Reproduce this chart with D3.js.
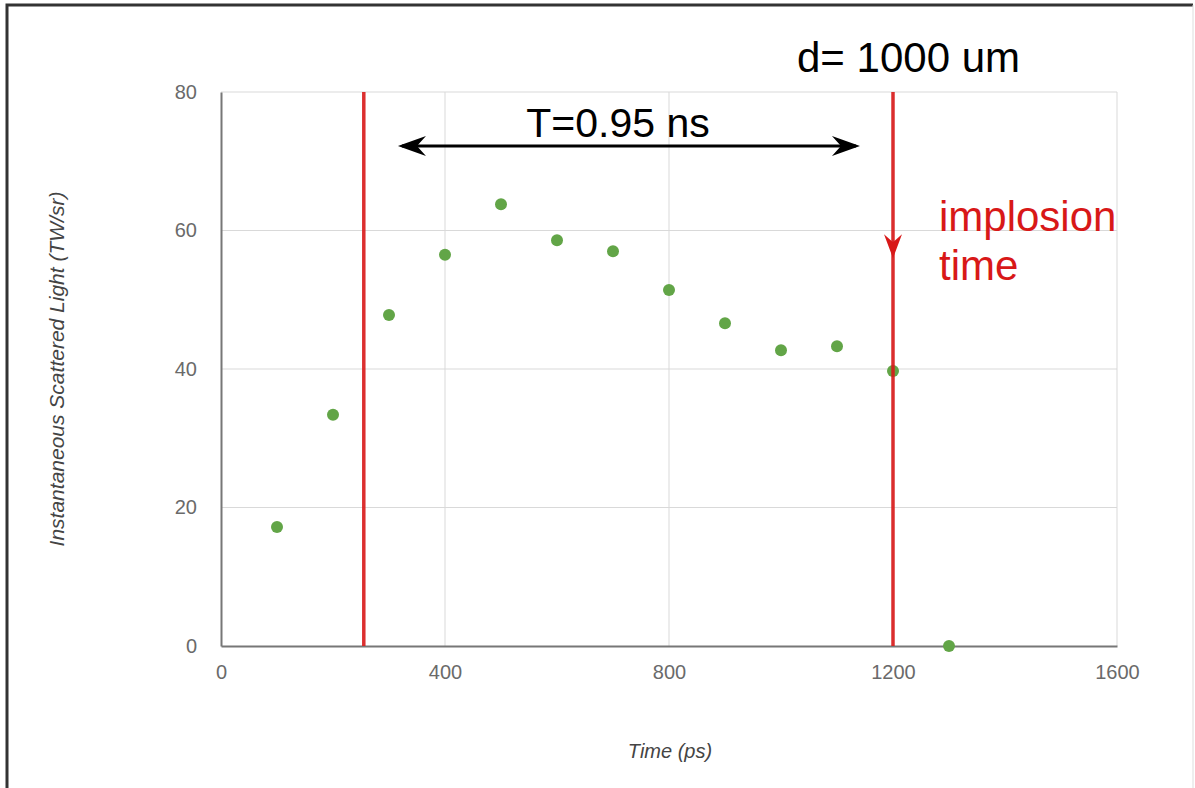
<!DOCTYPE html>
<html>
<head>
<meta charset="utf-8">
<script src="https://cdn.jsdelivr.net/npm/d3@7"></script>
<style>
  body { margin: 0; background: #fff; }
  svg { display: block; font-family: "Liberation Sans", Arial, sans-serif; }
</style>
</head>
<body>
<svg width="1195" height="788"></svg>
<script>
"use strict";

// scattered light vs time
const times = [100, 200, 300, 400, 500, 600, 700, 800, 900, 1000, 1100, 1200, 1300];
const light = [17.2, 33.4, 47.8, 56.5, 63.8, 58.6, 57.0, 51.4, 46.6, 42.7, 43.3, 39.7, 0];
const xTicks = [0, 400, 800, 1200, 1600];
const yTicks = [0, 20, 40, 60, 80];
const markerTimes = [255, 1200]; // red vertical lines
const spanArrow = [316, 1141];   // T=0.95 ns arrow extent (ps)
const arrowTipValue = 56;        // where the down arrow on the implosion line points

window.addEventListener("load", drawGraph);

function drawGraph() {
  const svg = d3.select("svg");
  const margin = { top: 92, right: 78, bottom: 142, left: 221 };
  const width = 1195 - margin.left - margin.right;
  const height = 788 - margin.top - margin.bottom;
  const red = "#d81818";

  // frame round the picture
  svg.append("path")
    .attr("d", "M7,788 V5 H1193")
    .attr("fill", "none")
    .attr("stroke", "#333")
    .attr("stroke-width", 3);
  svg.append("line")
    .attr("x1", 1193).attr("x2", 1193).attr("y1", 5).attr("y2", 788)
    .attr("stroke", "#ddd").attr("stroke-width", 1);

  const g = svg.append("g").attr("transform", `translate(${margin.left},${margin.top})`);

  const x = d3.scaleLinear().domain([0, 1600]).range([0, width]);
  const y = d3.scaleLinear().domain([0, 80]).range([height, 0]);

  // grid
  g.append("g")
    .selectAll("line")
    .data(yTicks.filter((d) => d > 0))
    .join("line")
    .attr("x1", 0).attr("x2", width)
    .attr("y1", (d) => y(d)).attr("y2", (d) => y(d))
    .attr("stroke", "#d9d9d9");
  g.append("g")
    .selectAll("line")
    .data(xTicks.filter((d) => d > 0))
    .join("line")
    .attr("y1", 0).attr("y2", height)
    .attr("x1", (d) => x(d)).attr("x2", (d) => x(d))
    .attr("stroke", "#d9d9d9");

  // axes
  const yAxis = g.append("g")
    .call(d3.axisLeft(y).tickValues(yTicks).tickFormat(d3.format("d")).tickSize(0).tickPadding(24));
  const xAxis = g.append("g")
    .attr("transform", `translate(0,${height})`)
    .call(d3.axisBottom(x).tickValues(xTicks).tickFormat(d3.format("d")).tickSize(0).tickPadding(19));
  [xAxis, yAxis].forEach((a) => {
    a.attr("font-size", null).attr("font-family", null);
    a.select(".domain").attr("stroke", "#777").attr("stroke-width", 2);
    a.selectAll("text")
      .attr("fill", "#6a6a6a")
      .style("font-size", "20px");
  });

  // axis titles
  svg.append("text")
    .attr("x", 670).attr("y", 758)
    .attr("text-anchor", "middle")
    .attr("fill", "#444")
    .style("font-size", "20px")
    .style("font-style", "italic")
    .text("Time (ps)");
  svg.append("text")
    .attr("transform", `translate(64,${margin.top + height / 2}) rotate(-90)`)
    .attr("text-anchor", "middle")
    .attr("fill", "#444")
    .style("font-size", "21px")
    .style("font-style", "italic")
    .text("Instantaneous Scattered Light (TW/sr)");

  // points
  g.append("g")
    .selectAll("circle")
    .data(times.map((t, i) => ({ t, v: light[i] })))
    .join("circle")
    .attr("cx", (d) => x(d.t))
    .attr("cy", (d) => y(d.v))
    .attr("r", 6)
    .attr("fill", "#62a547");

  // red markers
  g.append("g")
    .selectAll("line")
    .data(markerTimes)
    .join("line")
    .attr("x1", (d) => x(d)).attr("x2", (d) => x(d))
    .attr("y1", 0).attr("y2", height)
    .attr("stroke", red)
    .attr("stroke-width", 3.5)
    .attr("stroke-opacity", 0.9);

  // down arrow head on right marker
  const ax = x(markerTimes[1]);
  const tip = y(arrowTipValue);
  g.append("path")
    .attr("d", `M${ax},${tip} L${ax - 9},${tip - 24} L${ax},${tip - 16} L${ax + 9},${tip - 24} Z`)
    .attr("fill", red);

  // double-headed arrow
  const ay = 54;
  const x0 = x(spanArrow[0]);
  const x1 = x(spanArrow[1]);
  g.append("line")
    .attr("x1", x0 + 4).attr("x2", x1 - 4)
    .attr("y1", ay).attr("y2", ay)
    .attr("stroke", "#000").attr("stroke-width", 3);
  g.append("path")
    .attr("d", `M${x0},${ay} L${x0 + 28},${ay - 10} L${x0 + 19},${ay} L${x0 + 28},${ay + 10} Z`)
    .attr("fill", "#000");
  g.append("path")
    .attr("d", `M${x1},${ay} L${x1 - 28},${ay - 10} L${x1 - 19},${ay} L${x1 - 28},${ay + 10} Z`)
    .attr("fill", "#000");

  // annotation texts
  svg.append("text")
    .attr("x", 618).attr("y", 137)
    .attr("text-anchor", "middle")
    .attr("fill", "#000")
    .style("font-size", "41px")
    .text("T=0.95 ns");
  svg.append("text")
    .attr("x", 797).attr("y", 72)
    .attr("fill", "#000")
    .style("font-size", "42px")
    .text("d= 1000 um");
  svg.append("text")
    .attr("x", 939).attr("y", 231)
    .attr("fill", red)
    .style("font-size", "42px")
    .text("implosion");
  svg.append("text")
    .attr("x", 939).attr("y", 280)
    .attr("fill", red)
    .style("font-size", "42px")
    .text("time");
}
</script>
</body>
</html>
